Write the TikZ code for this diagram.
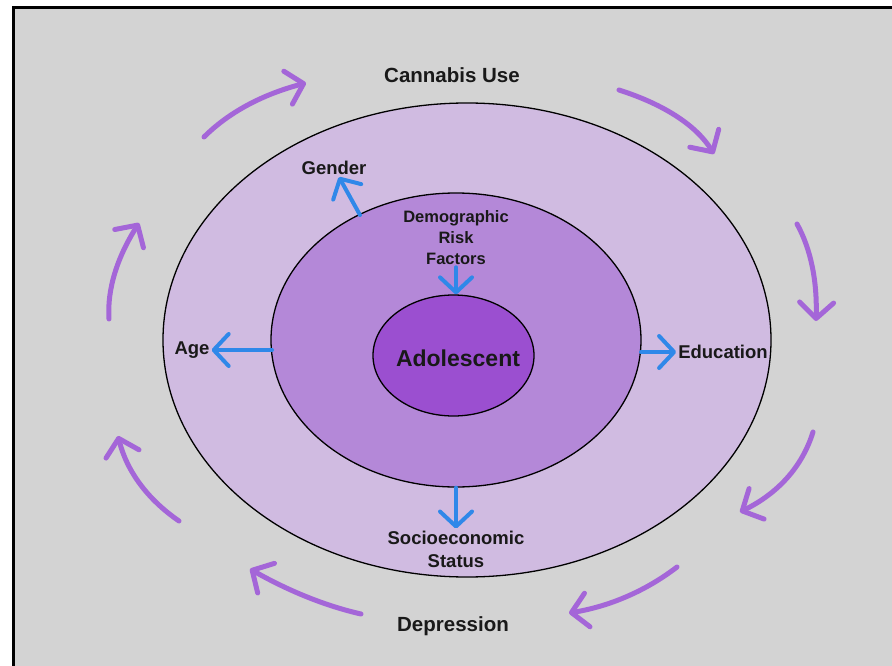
\documentclass[tikz,border=0pt]{standalone}
\usepackage{fontspec}
\setmainfont{Liberation Sans}
\usetikzlibrary{shapes.geometric,arrows.meta}
\definecolor{bgc}{HTML}{D3D3D3}
\definecolor{outerc}{HTML}{D0BBE1}
\definecolor{midc}{HTML}{B488D8}
\definecolor{innerc}{HTML}{9B4FD0}
\definecolor{purc}{HTML}{A466D8}
\definecolor{bluc}{HTML}{2F88E9}
\tikzset{
  ring/.style={ellipse, draw=black, line width=1.3pt, inner sep=0pt},
  lbl/.style={font=\bfseries\fontsize{18.5}{22}\selectfont, inner sep=2pt, text=black!90},
  blu/.style={draw=bluc, line width=4pt, line cap=round, -{Straight Barb[length=15pt,width=32pt,round]}},
  pur/.style={draw=purc, line width=5pt, line cap=round, -{Straight Barb[length=16pt,width=34pt,round]}}
}
\begin{document}
\begin{tikzpicture}[x=1pt,y=-1pt]
\useasboundingbox (0,0) rectangle (892,666);
\fill[white] (0,0) rectangle (892,666);
\fill[bgc] (14,9) rectangle (892,666);
\draw[line width=3pt] (13,666) -- (13,8) -- (892,8);
% ellipses
\node[ring, fill=outerc, minimum width=608pt, minimum height=474pt] (outer) at (467,340) {};
\node[ring, fill=midc, minimum width=370pt, minimum height=294pt] (mid) at (456,340) {};
\node[ring, fill=innerc, minimum width=161pt, minimum height=121pt] (inner) at (453.5,355.5) {};
% labels
\node[lbl, font=\bfseries\fontsize{20.5}{24}\selectfont] (cannabis) at (452,75) {Cannabis Use};
\node[lbl, font=\bfseries\fontsize{20.5}{24}\selectfont] (dep) at (453,626) {Depression};
\node[lbl] (gender) at (334,168) {Gender};
\node[lbl, align=center, font=\bfseries\fontsize{16.5}{21}\selectfont] (drf) at (456,238) {Demographic\\Risk\\Factors};
\node[lbl, font=\bfseries\fontsize{23}{27}\selectfont] (adol) at (458,358) {Adolescent};
\node[lbl] (age) at (192,350) {Age};
\node[lbl] (edu) at (723,352) {Education};
\node[lbl, align=center, font=\bfseries\fontsize{18.5}{23}\selectfont] (ses) at (456,549) {Socioeconomic\\Status};
% blue arrows
\coordinate (gtail) at (360,215);
\coordinate (agetail) at (272,350);
\coordinate (edutail) at (641,352);
\draw[blu] (gtail) -- (gender);
\draw[blu] (drf.south) -- (drf.south |- inner.north);
\draw[blu] (agetail) -- (age.east);
\draw[blu] (edutail) -- (edu.west);
\draw[blu] (mid.south) -- (ses.north);
% purple cycle arrows
\coordinate (a1s) at (204,137); \coordinate (a1e) at (306,83);
\coordinate (a2s) at (619,90);  \coordinate (a2e) at (714,154);
\coordinate (a3s) at (797,224); \coordinate (a3e) at (816,321);
\coordinate (a4s) at (813,432); \coordinate (a4e) at (740,512);
\coordinate (a5s) at (677,567); \coordinate (a5e) at (569,613);
\coordinate (a6s) at (361,614); \coordinate (a6e) at (250,569);
\coordinate (a7s) at (179,521); \coordinate (a7e) at (118,436);
\coordinate (a8s) at (109,319); \coordinate (a8e) at (139,223);
\draw[pur] (a1s) .. controls (228.7,112.3) and (262.7,94.3) .. (a1e);
\draw[pur] (a2s) .. controls (665,104.7) and (696.7,126) .. (a2e);
\draw[pur] (a3s) .. controls (811,249.3) and (817.3,281.7) .. (a3e);
\draw[pur] (a4s) .. controls (802.3,466.7) and (778,493.3) .. (a4e);
\draw[pur] (a5s) .. controls (645.7,591) and (609.7,606.3) .. (a5e);
\draw[pur] (a6s) .. controls (325.7,606) and (288.7,591) .. (a6e);
\draw[pur] (a7s) .. controls (147,499) and (126.7,470.7) .. (a7e);
\draw[pur] (a8s) .. controls (107,289.7) and (117,257.7) .. (a8e);
\end{tikzpicture}
\end{document}
